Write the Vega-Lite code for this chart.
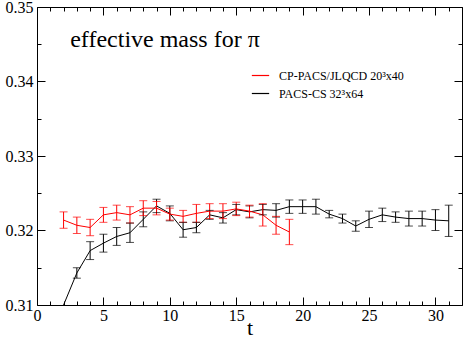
{
  "$schema": "https://vega.github.io/schema/vega-lite/v6.json",
  "autosize": {"type": "none"},
  "width": 425,
  "height": 298,
  "padding": {"left": 37, "top": 7, "right": 1, "bottom": 37},
  "background": "white",
  "config": {
    "view": {"stroke": "black", "strokeWidth": 1},
    "font": "Times New Roman, Liberation Serif, serif",
    "axis": {"labelFont": "Times New Roman, Liberation Serif, serif", "titleFont": "Times New Roman, Liberation Serif, serif", "labelColor": "black", "titleColor": "black", "domain": false, "grid": false, "tickColor": "black", "labelFontSize": 16, "titleFontWeight": "normal"},
    "legend": {"labelFont": "Times New Roman, Liberation Serif, serif", "labelFontSize": 12, "labelColor": "black"}
  },
  "datasets": {
    "pts": [
      {"t": 2, "m": 0.3100, "lo": null, "hi": null, "series": "PACS-CS 32³x64"},
      {"t": 3, "m": 0.3143, "lo": 0.3136, "hi": 0.3150, "series": "PACS-CS 32³x64"},
      {"t": 4, "m": 0.3173, "lo": 0.3161, "hi": 0.3185, "series": "PACS-CS 32³x64"},
      {"t": 5, "m": 0.3183, "lo": 0.3171, "hi": 0.3195, "series": "PACS-CS 32³x64"},
      {"t": 6, "m": 0.3192, "lo": 0.3180, "hi": 0.3204, "series": "PACS-CS 32³x64"},
      {"t": 7, "m": 0.3197, "lo": 0.3184, "hi": 0.3210, "series": "PACS-CS 32³x64"},
      {"t": 8, "m": 0.3215, "lo": 0.3205, "hi": 0.3225, "series": "PACS-CS 32³x64"},
      {"t": 9, "m": 0.3233, "lo": 0.3224, "hi": 0.3242, "series": "PACS-CS 32³x64"},
      {"t": 10, "m": 0.3223, "lo": 0.3213, "hi": 0.3233, "series": "PACS-CS 32³x64"},
      {"t": 11, "m": 0.3201, "lo": 0.3191, "hi": 0.3211, "series": "PACS-CS 32³x64"},
      {"t": 12, "m": 0.3204, "lo": 0.3197, "hi": 0.3211, "series": "PACS-CS 32³x64"},
      {"t": 13, "m": 0.3221, "lo": 0.3215, "hi": 0.3227, "series": "PACS-CS 32³x64"},
      {"t": 14, "m": 0.3217, "lo": 0.3210, "hi": 0.3224, "series": "PACS-CS 32³x64"},
      {"t": 15, "m": 0.3228, "lo": 0.3221, "hi": 0.3235, "series": "PACS-CS 32³x64"},
      {"t": 16, "m": 0.3225, "lo": 0.3217, "hi": 0.3233, "series": "PACS-CS 32³x64"},
      {"t": 17, "m": 0.3228, "lo": 0.3221, "hi": 0.3235, "series": "PACS-CS 32³x64"},
      {"t": 18, "m": 0.3227, "lo": 0.3218, "hi": 0.3236, "series": "PACS-CS 32³x64"},
      {"t": 19, "m": 0.3232, "lo": 0.3223, "hi": 0.3241, "series": "PACS-CS 32³x64"},
      {"t": 20, "m": 0.3232, "lo": 0.3223, "hi": 0.3241, "series": "PACS-CS 32³x64"},
      {"t": 21, "m": 0.3232, "lo": 0.3222, "hi": 0.3242, "series": "PACS-CS 32³x64"},
      {"t": 22, "m": 0.3222, "lo": 0.3217, "hi": 0.3227, "series": "PACS-CS 32³x64"},
      {"t": 23, "m": 0.3216, "lo": 0.3210, "hi": 0.3222, "series": "PACS-CS 32³x64"},
      {"t": 24, "m": 0.3206, "lo": 0.3199, "hi": 0.3213, "series": "PACS-CS 32³x64"},
      {"t": 25, "m": 0.3215, "lo": 0.3204, "hi": 0.3226, "series": "PACS-CS 32³x64"},
      {"t": 26, "m": 0.3221, "lo": 0.3212, "hi": 0.3230, "series": "PACS-CS 32³x64"},
      {"t": 27, "m": 0.3218, "lo": 0.3211, "hi": 0.3225, "series": "PACS-CS 32³x64"},
      {"t": 28, "m": 0.3216, "lo": 0.3206, "hi": 0.3226, "series": "PACS-CS 32³x64"},
      {"t": 29, "m": 0.3216, "lo": 0.3206, "hi": 0.3226, "series": "PACS-CS 32³x64"},
      {"t": 30, "m": 0.3214, "lo": 0.3200, "hi": 0.3228, "series": "PACS-CS 32³x64"},
      {"t": 31, "m": 0.3213, "lo": 0.3192, "hi": 0.3234, "series": "PACS-CS 32³x64"},
      {"t": 2, "m": 0.3214, "lo": 0.3203, "hi": 0.3225, "series": "CP-PACS/JLQCD 20³x40"},
      {"t": 3, "m": 0.3207, "lo": 0.3196, "hi": 0.3218, "series": "CP-PACS/JLQCD 20³x40"},
      {"t": 4, "m": 0.3204, "lo": 0.3193, "hi": 0.3215, "series": "CP-PACS/JLQCD 20³x40"},
      {"t": 5, "m": 0.3221, "lo": 0.3211, "hi": 0.3231, "series": "CP-PACS/JLQCD 20³x40"},
      {"t": 6, "m": 0.3224, "lo": 0.3214, "hi": 0.3234, "series": "CP-PACS/JLQCD 20³x40"},
      {"t": 7, "m": 0.3221, "lo": 0.3210, "hi": 0.3232, "series": "CP-PACS/JLQCD 20³x40"},
      {"t": 8, "m": 0.3230, "lo": 0.3220, "hi": 0.3240, "series": "CP-PACS/JLQCD 20³x40"},
      {"t": 9, "m": 0.3230, "lo": 0.3221, "hi": 0.3239, "series": "CP-PACS/JLQCD 20³x40"},
      {"t": 10, "m": 0.3222, "lo": 0.3214, "hi": 0.3230, "series": "CP-PACS/JLQCD 20³x40"},
      {"t": 11, "m": 0.3219, "lo": 0.3211, "hi": 0.3227, "series": "CP-PACS/JLQCD 20³x40"},
      {"t": 12, "m": 0.3223, "lo": 0.3211, "hi": 0.3235, "series": "CP-PACS/JLQCD 20³x40"},
      {"t": 13, "m": 0.3226, "lo": 0.3216, "hi": 0.3236, "series": "CP-PACS/JLQCD 20³x40"},
      {"t": 14, "m": 0.3226, "lo": 0.3216, "hi": 0.3236, "series": "CP-PACS/JLQCD 20³x40"},
      {"t": 15, "m": 0.3229, "lo": 0.3220, "hi": 0.3238, "series": "CP-PACS/JLQCD 20³x40"},
      {"t": 16, "m": 0.3226, "lo": 0.3218, "hi": 0.3234, "series": "CP-PACS/JLQCD 20³x40"},
      {"t": 17, "m": 0.3221, "lo": 0.3206, "hi": 0.3236, "series": "CP-PACS/JLQCD 20³x40"},
      {"t": 18, "m": 0.3207, "lo": 0.3195, "hi": 0.3219, "series": "CP-PACS/JLQCD 20³x40"},
      {"t": 19, "m": 0.3198, "lo": 0.3181, "hi": 0.3215, "series": "CP-PACS/JLQCD 20³x40"}
    ],
    "label": [{"t": 2.5, "m": 0.3446, "text": "effective mass for π"}]
  },
  "resolve": {"axis": {"x": "independent", "y": "independent"}},
  "layer": [
    {
      "data": {"name": "pts"},
      "mark": {"type": "line", "strokeWidth": 1, "clip": true},
      "encoding": {
        "x": {"field": "t", "type": "quantitative", "scale": {"domain": [0, 32], "nice": false, "zero": false},
          "axis": {"orient": "bottom", "title": "t", "titleFont": "Times New Roman, Liberation Serif, serif", "titleFontWeight": "normal", "titleFontSize": 22, "titlePadding": -10,
            "labelFont": "Times New Roman, Liberation Serif, serif", "labelFontSize": 16, "labelColor": "black",
            "values": [0,1,2,3,4,5,6,7,8,9,10,11,12,13,14,15,16,17,18,19,20,21,22,23,24,25,26,27,28,29,30,31,32],
            "labelExpr": "datum.value % 5 === 0 ? datum.label : ''",
            "tickSize": {"condition": {"test": "datum.value % 5 === 0", "value": -8}, "value": -4},
            "labelPadding": 10, "labelFlush": false, "labelOverlap": false}},
        "y": {"field": "m", "type": "quantitative", "scale": {"domain": [0.31, 0.35], "nice": false, "zero": false},
          "axis": {"orient": "left", "title": null,
            "labelFont": "Times New Roman, Liberation Serif, serif", "labelFontSize": 16, "labelColor": "black",
            "values": [0.31, 0.315, 0.32, 0.325, 0.33, 0.335, 0.34, 0.345, 0.35],
            "labelExpr": "round(datum.value * 1000) % 10 === 0 ? format(datum.value, '.2f') : ''",
            "tickSize": {"condition": {"test": "round(datum.value * 1000) % 10 === 0", "value": -8}, "value": -4},
            "labelPadding": 12, "labelFlush": false, "labelOverlap": false}},
        "color": {"field": "series", "type": "nominal",
          "scale": {"domain": ["CP-PACS/JLQCD 20³x40", "PACS-CS 32³x64"], "range": ["#ff0000", "#000000"]},
          "legend": {"title": null, "orient": "none", "legendX": 214, "legendY": 59, "symbolType": "stroke", "symbolSize": 300, "symbolStrokeWidth": 1.2, "symbolStrokeColor": null, "rowPadding": 2, "labelOffset": 9, "labelFont": "Times New Roman, Liberation Serif, serif", "labelFontSize": 12}},
        "detail": {"field": "series"},
        "order": {"field": "t"}
      }
    },
    {
      "data": {"name": "pts"},
      "mark": {"type": "rule", "strokeWidth": 1},
      "encoding": {
        "x": {"field": "t", "type": "quantitative",
          "axis": {"orient": "top", "title": null, "labels": false,
            "values": [0,1,2,3,4,5,6,7,8,9,10,11,12,13,14,15,16,17,18,19,20,21,22,23,24,25,26,27,28,29,30,31,32],
            "tickSize": {"condition": {"test": "datum.value % 5 === 0", "value": -8}, "value": -4}}},
        "y": {"field": "lo", "type": "quantitative",
          "axis": {"orient": "right", "title": null, "labels": false,
            "values": [0.31, 0.315, 0.32, 0.325, 0.33, 0.335, 0.34, 0.345, 0.35],
            "tickSize": {"condition": {"test": "round(datum.value * 1000) % 10 === 0", "value": -8}, "value": -4}}},
        "y2": {"field": "hi"},
        "color": {"field": "series", "type": "nominal", "legend": null}
      }
    },
    {
      "data": {"name": "pts"},
      "mark": {"type": "tick", "orient": "horizontal", "size": 8, "thickness": 1},
      "encoding": {
        "x": {"field": "t", "type": "quantitative", "axis": null},
        "y": {"field": "lo", "type": "quantitative", "axis": null},
        "color": {"field": "series", "type": "nominal", "legend": null}
      }
    },
    {
      "data": {"name": "pts"},
      "mark": {"type": "tick", "orient": "horizontal", "size": 8, "thickness": 1},
      "encoding": {
        "x": {"field": "t", "type": "quantitative", "axis": null},
        "y": {"field": "hi", "type": "quantitative", "axis": null},
        "color": {"field": "series", "type": "nominal", "legend": null}
      }
    },
    {
      "data": {"name": "label"},
      "mark": {"type": "text", "align": "left", "baseline": "alphabetic", "fontSize": 24, "font": "Times New Roman, Liberation Serif, serif", "color": "black"},
      "encoding": {
        "x": {"field": "t", "type": "quantitative", "axis": null},
        "y": {"field": "m", "type": "quantitative", "axis": null},
        "text": {"field": "text"}
      }
    }
  ]
}
